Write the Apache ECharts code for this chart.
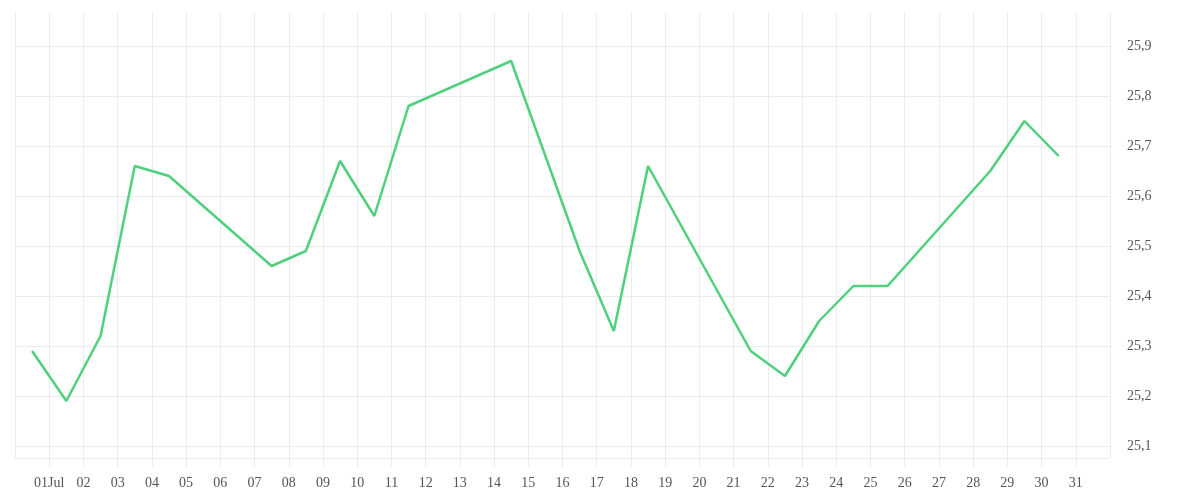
<!DOCTYPE html>
<html>
<head>
<meta charset="utf-8">
<script src="https://cdn.jsdelivr.net/npm/echarts@6/dist/echarts.min.js"></script>
<style>
html,body{margin:0;padding:0;background:#fff;}
#chart{width:1200px;height:500px;}
</style>
</head>
<body>
<div id="chart"></div>
<script>
// Day index: 0 = 30 Jun, 1..31 = 01..31 Jul, 32 = 01 Aug. Readings are taken at midday.
var days   = [0, 1, 2, 3, 4, 7, 8, 9, 10, 11, 14, 16, 17, 18, 21, 22, 23, 24, 25, 28, 29, 30];
var values = [25.29, 25.19, 25.32, 25.66, 25.64, 25.46, 25.49, 25.67, 25.56, 25.78, 25.87, 25.49, 25.33, 25.66, 25.29, 25.24, 25.35, 25.42, 25.42, 25.65, 25.75, 25.68];
var monthLabel = 'Jul';
var xMin = 0, xMax = 32;
var yMin = 25.076, yMax = 25.968;

var seriesData = days.map(function (d, i) { return [d + 0.5, values[i]]; });

var chart = echarts.init(document.getElementById('chart'));
var gridColor = '#ececec';
var labelColor = '#555';
var fontFamily = '"Liberation Serif", serif';

chart.setOption({
  animation: false,
  grid: { left: 15, right: 90, top: 12, bottom: 42, containLabel: false },
  xAxis: {
    type: 'value',
    min: xMin,
    max: xMax,
    interval: 1,
    axisLine: { show: false },
    axisTick: { show: true, length: 9, lineStyle: { color: gridColor, width: 1 } },
    splitLine: { show: true, lineStyle: { color: gridColor, width: 1 } },
    axisLabel: {
      margin: 18,
      color: labelColor,
      fontFamily: fontFamily,
      fontSize: 14,
      showMinLabel: false,
      showMaxLabel: false,
      formatter: function (v) {
        if (v < 1 || v > 31) return '';
        var s = (v < 10 ? '0' : '') + v;
        return v === 1 ? s + monthLabel : s;
      }
    }
  },
  yAxis: {
    type: 'value',
    position: 'right',
    min: yMin,
    max: yMax,
    splitNumber: 9,
    axisLine: { show: false },
    axisTick: { show: false },
    splitLine: { show: true, showMaxLine: false, lineStyle: { color: gridColor, width: 1 } },
    axisLabel: {
      margin: 17,
      color: labelColor,
      fontFamily: fontFamily,
      fontSize: 14,
      showMinLabel: false,
      showMaxLabel: false,
      formatter: function (v) { return v.toFixed(1).replace('.', ','); }
    }
  },
  series: [{
    type: 'line',
    data: seriesData,
    symbol: 'none',
    lineStyle: { color: '#4fd07c', width: 2.5 }
  }]
});
</script>
</body>
</html>
